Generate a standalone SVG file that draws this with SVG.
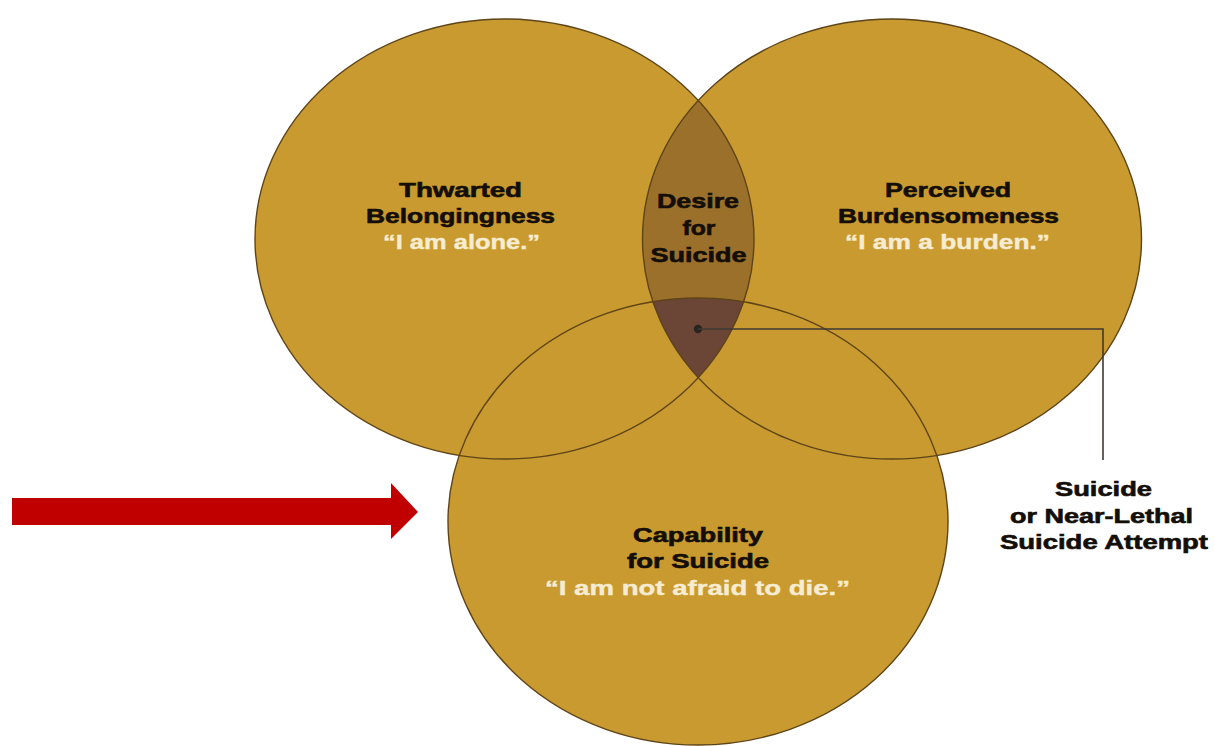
<svg xmlns="http://www.w3.org/2000/svg" width="1215" height="746" viewBox="0 0 1215 746">
<style>
.fill{fill:#C99A2F;stroke:none}
.outline{fill:none;stroke:#5E4419;stroke-width:1.4}
.t{font-family:"Liberation Sans",Arial,sans-serif;font-weight:bold;font-size:20px;text-anchor:middle}
.dark{fill:#140e08;stroke:#140e08;stroke-width:0.6}
.quote{fill:#F6ECD2;stroke:#F6ECD2;stroke-width:0.4}
.conn{fill:none;stroke:#3f3a35;stroke-width:1.6}
</style>
<defs>
<clipPath id="clipL"><ellipse cx="504.5" cy="239" rx="249.5" ry="220"/></clipPath>
<clipPath id="clipR"><ellipse cx="892" cy="239" rx="249.5" ry="220"/></clipPath>
</defs>
<rect width="1215" height="746" fill="#ffffff"/>
<g id="circle-fills">
<ellipse class="fill" cx="504.5" cy="239" rx="249.5" ry="220"/>
<ellipse class="fill" cx="892" cy="239" rx="249.5" ry="220"/>
<ellipse class="fill" cx="698" cy="521.5" rx="250" ry="223.5"/>
</g>
<g id="desire-region" clip-path="url(#clipL)">
<ellipse cx="892" cy="239" rx="249.5" ry="220" fill="#9B702B"/>
<g clip-path="url(#clipR)">
<ellipse cx="698" cy="521.5" rx="250" ry="223.5" fill="#6B4535"/>
</g>
</g>
<g id="outlines">
<ellipse class="outline" cx="504.5" cy="239" rx="249.5" ry="220"/>
<ellipse class="outline" cx="892" cy="239" rx="249.5" ry="220"/>
<ellipse class="outline" cx="698" cy="521.5" rx="250" ry="223.5"/>
</g>
<g id="node-thwarted">
<text class="t dark" x="460.5" y="197" textLength="123" lengthAdjust="spacingAndGlyphs">Thwarted</text>
<text class="t dark" x="460.5" y="223" textLength="189" lengthAdjust="spacingAndGlyphs">Belongingness</text>
<text class="t quote" x="461.5" y="249" textLength="157" lengthAdjust="spacingAndGlyphs">“I am alone.”</text>
</g>
<g id="node-perceived">
<text class="t dark" x="948" y="197" textLength="126" lengthAdjust="spacingAndGlyphs">Perceived</text>
<text class="t dark" x="948.5" y="223" textLength="221" lengthAdjust="spacingAndGlyphs">Burdensomeness</text>
<text class="t quote" x="947.5" y="249" textLength="205" lengthAdjust="spacingAndGlyphs">“I am a burden.”</text>
</g>
<g id="node-desire">
<text class="t dark" x="698" y="208" textLength="82" lengthAdjust="spacingAndGlyphs">Desire</text>
<text class="t dark" x="699" y="235" textLength="33" lengthAdjust="spacingAndGlyphs">for</text>
<text class="t dark" x="698.5" y="262" textLength="96" lengthAdjust="spacingAndGlyphs">Suicide</text>
</g>
<g id="node-capability">
<text class="t dark" x="698" y="542" textLength="130" lengthAdjust="spacingAndGlyphs">Capability</text>
<text class="t dark" x="698" y="568" textLength="142" lengthAdjust="spacingAndGlyphs">for Suicide</text>
<text class="t quote" x="697.5" y="595" textLength="305" lengthAdjust="spacingAndGlyphs">“I am not afraid to die.”</text>
</g>
<g id="node-outcome">
<text class="t dark" x="1103.5" y="496" textLength="97" lengthAdjust="spacingAndGlyphs">Suicide</text>
<text class="t dark" x="1101.5" y="523" textLength="183" lengthAdjust="spacingAndGlyphs">or Near-Lethal</text>
<text class="t dark" x="1104" y="549" textLength="208" lengthAdjust="spacingAndGlyphs">Suicide Attempt</text>
</g>
<g id="connectors">
<circle cx="698" cy="329" r="4.2" fill="#2a2420"/>
<polyline class="conn" points="698,329 1103,329 1103,460"/>
</g>
<g id="red-arrow">
<polygon points="12,498 391,498 391,483 418,512 391,539 391,525 12,525" fill="#C00000"/>
</g>
</svg>
